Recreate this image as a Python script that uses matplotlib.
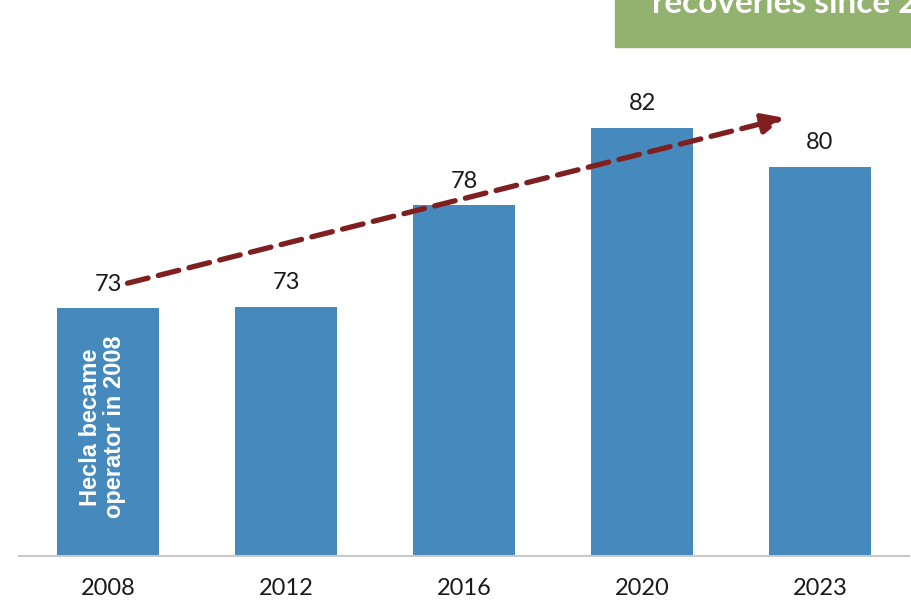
import matplotlib
matplotlib.use('Agg')
import matplotlib.pyplot as plt

# Data
years = ['2008', '2012', '2016', '2020', '2023']
values = [72.7, 72.8, 78.0, 82.0, 80.0]
labels = ['73', '73', '78', '82', '80']

plt.rcParams['font.family'] = ['Lato', 'DejaVu Sans']

fig = plt.figure(figsize=(9.11, 6.02), dpi=100)
ax = fig.add_axes([19/911, 46.5/602, 890/911, 505.7/602])

x = range(len(years))
ax.bar(x, values, width=0.573, color='#4589bd', zorder=2)
ax.set_xlim(-0.5, len(years) - 0.5)
ax.set_ylim(60, 86)

for xi, v, lab in zip(x, values, labels):
    ax.annotate(lab, (xi, v), xytext=(0, 10), textcoords='offset points',
                ha='center', va='bottom', fontsize=17, color='#1a1a1a')

# trend arrow
ax.annotate('', xy=(3.80, 82.5), xytext=(0.11, 74.0),
            arrowprops=dict(arrowstyle='-|>,head_length=1.3,head_width=0.6',
                            color='#7f1f1f', lw=3.8, linestyle=(0, (4, 2)),
                            shrinkA=0, shrinkB=0), zorder=3)

ax.text(-0.03, 66.6, 'Hecla became\noperator in 2008', rotation=90,
        ha='center', va='center', color='white', fontsize=17,
        fontweight='bold', family=['Liberation Sans', 'DejaVu Sans'],
        linespacing=1.05, zorder=4)

ax.set_yticks([])
ax.set_xticks(list(x))
ax.set_xticklabels(years, fontsize=17, color='#1a1a1a')
ax.tick_params(axis='x', length=0, pad=16)
for s in ['top', 'right', 'left']:
    ax.spines[s].set_visible(False)
ax.spines['bottom'].set_color('#c8c8c8')
ax.spines['bottom'].set_linewidth(1.5)

# green header box, cut off at the figure edge
fig.patches.append(plt.Rectangle((615/911, 1 - 47/602), 1, 47/602,
                                 transform=fig.transFigure, color='#93b26f',
                                 zorder=0))
fig.text(652/911, 1 - 13/602, 'recoveries since 2008', color='white',
         fontsize=24, fontweight='bold', ha='left', va='baseline')

fig.savefig('out.png', dpi=100)
